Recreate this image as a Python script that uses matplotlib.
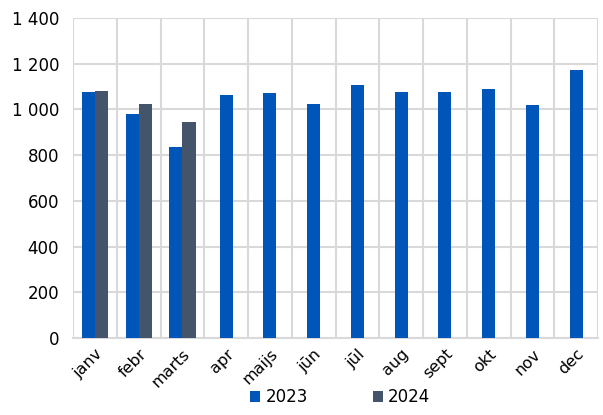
import numpy as np
import matplotlib
matplotlib.use('Agg')
import matplotlib.pyplot as plt
from matplotlib.ticker import FuncFormatter

months = ['janv', 'febr', 'marts', 'apr', 'maijs', 'jūn', 'jūl', 'aug', 'sept', 'okt', 'nov', 'dec']
vals_2023 = [1076, 981, 835, 1063, 1072, 1022, 1109, 1075, 1075, 1091, 1019, 1172]
vals_2024 = [1079, 1023, 946]

c2023 = '#0055b8'
c2024 = '#44546a'

fig = plt.figure(figsize=(6.03, 4.15), dpi=100)
ax = fig.add_axes([73 / 603, 1 - 338 / 415, 525 / 603, 320 / 415])

x = np.arange(len(months))
w = 0.3
ax.bar(x[:len(vals_2024)] - w / 2, vals_2023[:len(vals_2024)], w, color=c2023, label='2023', zorder=3)
ax.bar(x[len(vals_2024):], vals_2023[len(vals_2024):], w, color=c2023, zorder=3)
ax.bar(x[:len(vals_2024)] + w / 2, vals_2024, w, color=c2024, label='2024', zorder=3)

ax.set_xlim(-0.5, len(months) - 0.5)
ax.set_ylim(0, 1400)
ax.set_yticks(range(0, 1401, 200))
ax.yaxis.set_major_formatter(FuncFormatter(lambda v, p: f'{int(v):,}'.replace(',', ' ')))

ax.set_xticks(x)
ax.set_xticklabels(months, rotation=45, ha='right', rotation_mode='anchor', fontsize=11.5)
ax.set_xticks(np.arange(-0.5, len(months)), minor=True)
ax.grid(axis='y', color='#d9d9d9', lw=1.5, zorder=0)
ax.grid(axis='x', which='minor', color='#d9d9d9', lw=1.5, zorder=0)
ax.tick_params(axis='x', which='both', length=0, pad=6)
ax.tick_params(axis='y', length=0, labelsize=12, pad=10)
for s in ['top', 'right', 'left']:
    ax.spines[s].set_visible(False)
ax.spines['bottom'].set_color('#d9d9d9')
ax.spines['bottom'].set_linewidth(1.5)

fig.legend(loc='lower center', bbox_to_anchor=(0.564, -0.015), ncol=2, frameon=False,
           fontsize=12, handlelength=0.6, handleheight=0.6, handletextpad=0.3, columnspacing=3.9)

fig.savefig('out.png', dpi=100)
